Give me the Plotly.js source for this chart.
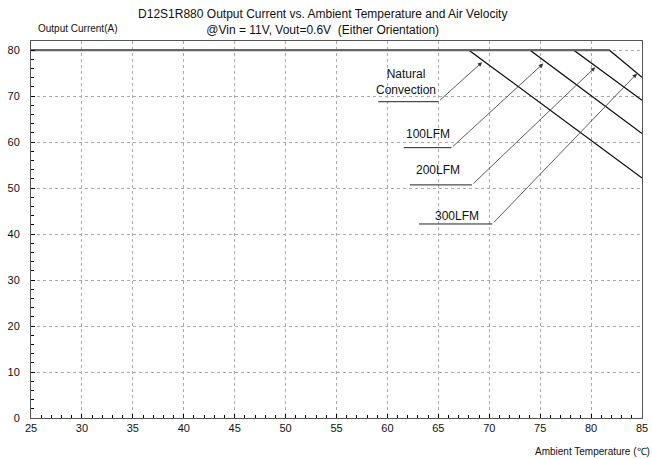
<!DOCTYPE html>
<html>
<head>
<meta charset="utf-8">
<script src="https://cdn.plot.ly/plotly-3.0.1.min.js"></script>
<style>html,body{margin:0;padding:0;background:#fff;}#chart{width:652px;height:459px;}</style>
</head>
<body>
<div id="chart"></div>
<script>
// Derating curves: ambient temperature (°C) vs output current (A)
const seriesNames = ["Natural Convection", "100LFM", "200LFM", "300LFM"];
const natTemp = [25, 68.0, 85];
const natCurrent = [80, 80, 52.2];
const lfm100Temp = [25, 74.0, 85];
const lfm100Current = [80, 80, 61.9];
const lfm200Temp = [25, 78.3, 85];
const lfm200Current = [80, 80, 69.1];
const lfm300Temp = [25, 81.8, 85];
const lfm300Current = [80, 80, 74.1];

// Callout labels and their leader lines (data coordinates)
const labelText = ["Natural<br>Convection", "100LFM", "200LFM", "300LFM"];
const labelX = [61.8, 64.0, 65.0, 66.8];
const labelY = [73.1, 61.8, 54.0, 43.9];
const leaderStartX = [59.1, 61.6, 62.2, 63.1];
const leaderElbowX = [65.0, 66.3, 68.3, 70.3];
const leaderY = [68.8, 58.8, 50.7, 42.2];
const arrowTipX = [69.3, 75.3, 80.4, 84.5];
const arrowTipY = [77.4, 77.1, 76.3, 74.9];

const xTickVals = [25, 30, 35, 40, 45, 50, 55, 60, 65, 70, 75, 80, 85];
const yTickVals = [0, 10, 20, 30, 40, 50, 60, 70, 80];

const FONT = "Liberation Sans, Arial, sans-serif";

const curveSets = [[natTemp, natCurrent], [lfm100Temp, lfm100Current], [lfm200Temp, lfm200Current], [lfm300Temp, lfm300Current]];
const traces = [];
curveSets.forEach((c, i) => {
  traces.push({x: c[0], y: c[1], mode: "lines", name: seriesNames[i],
    line: {color: "#111", width: 1.2}, hoverinfo: "x+y", showlegend: false});
});
// shared flat (full-load) segment drawn heavier
const flatEnd = Math.max(natTemp[1], lfm100Temp[1], lfm200Temp[1], lfm300Temp[1]);
traces.push({x: [natTemp[0], flatEnd], y: [natCurrent[0], natCurrent[0]], mode: "lines",
  line: {color: "#666", width: 2.2}, hoverinfo: "skip", showlegend: false});
// leader lines
for (let i = 0; i < labelText.length; i++) {
  traces.push({x: [leaderStartX[i], leaderElbowX[i]], y: [leaderY[i], leaderY[i]], mode: "lines",
    line: {color: "#222", width: 1}, hoverinfo: "skip", showlegend: false});
}

const annotations = [];
for (let i = 0; i < labelText.length; i++) {
  annotations.push({x: labelX[i], y: labelY[i], xref: "x", yref: "y", text: labelText[i],
    showarrow: false, font: {family: FONT, size: 12, color: "#111"}, align: "center"});
  annotations.push({x: arrowTipX[i], y: arrowTipY[i], xref: "x", yref: "y",
    ax: leaderElbowX[i], ay: leaderY[i], axref: "x", ayref: "y", text: "",
    showarrow: true, arrowhead: 2, arrowsize: 1.1, arrowwidth: 0.8, arrowcolor: "#333"});
}
annotations.push({xref: "paper", yref: "paper", x: 0.0753, y: 1, xanchor: "center", yanchor: "middle",
  yshift: 13, text: "Output Current(A)", showarrow: false, font: {family: FONT, size: 10, color: "#111"}});
annotations.push({xref: "paper", yref: "paper", x: 1.0164, y: 0, xanchor: "right", yanchor: "middle",
  yshift: -33, text: "Ambient Temperature (℃)", showarrow: false, font: {family: FONT, size: 10, color: "#111"}});

const layout = {
  width: 652, height: 459,
  margin: {l: 31, r: 10, t: 41, b: 41},
  paper_bgcolor: "#fff", plot_bgcolor: "#fff",
  font: {family: FONT, size: 11, color: "#111"},
  title: {text: "D12S1R880 Output Current vs. Ambient Temperature and Air Velocity<br>@Vin = 11V, Vout=0.6V  (Either Orientation)",
    font: {family: FONT, size: 12, color: "#111"}, xref: "container", x: 0.495, xanchor: "center",
    yref: "container", y: 0.96, yanchor: "top"},
  xaxis: {range: [25, 85], tickvals: xTickVals, ticks: "inside", ticklen: 4, tickcolor: "#000",
    showline: true, linecolor: "#555", linewidth: 1, mirror: true,
    showgrid: true, gridcolor: "#aaa", griddash: "dot", gridwidth: 1, zeroline: false,
    tickfont: {family: FONT, size: 11, color: "#111"},
    minor: {ticks: "inside", dtick: 1, ticklen: 3, tickcolor: "#000", showgrid: false}},
  yaxis: {range: [0, 82], tickvals: yTickVals, ticks: "inside", ticklen: 4, tickcolor: "#000",
    showline: true, linecolor: "#555", linewidth: 1, mirror: true,
    showgrid: true, gridcolor: "#aaa", griddash: "dot", gridwidth: 1, zeroline: false,
    tickfont: {family: FONT, size: 11, color: "#111"}, ticklabelstandoff: 8,
    minor: {ticks: "inside", dtick: 2, ticklen: 3, tickcolor: "#000", showgrid: false}},
  annotations: annotations,
  showlegend: false
};

Plotly.newPlot("chart", traces, layout, {displayModeBar: false, staticPlot: true});
</script>
</body>
</html>
